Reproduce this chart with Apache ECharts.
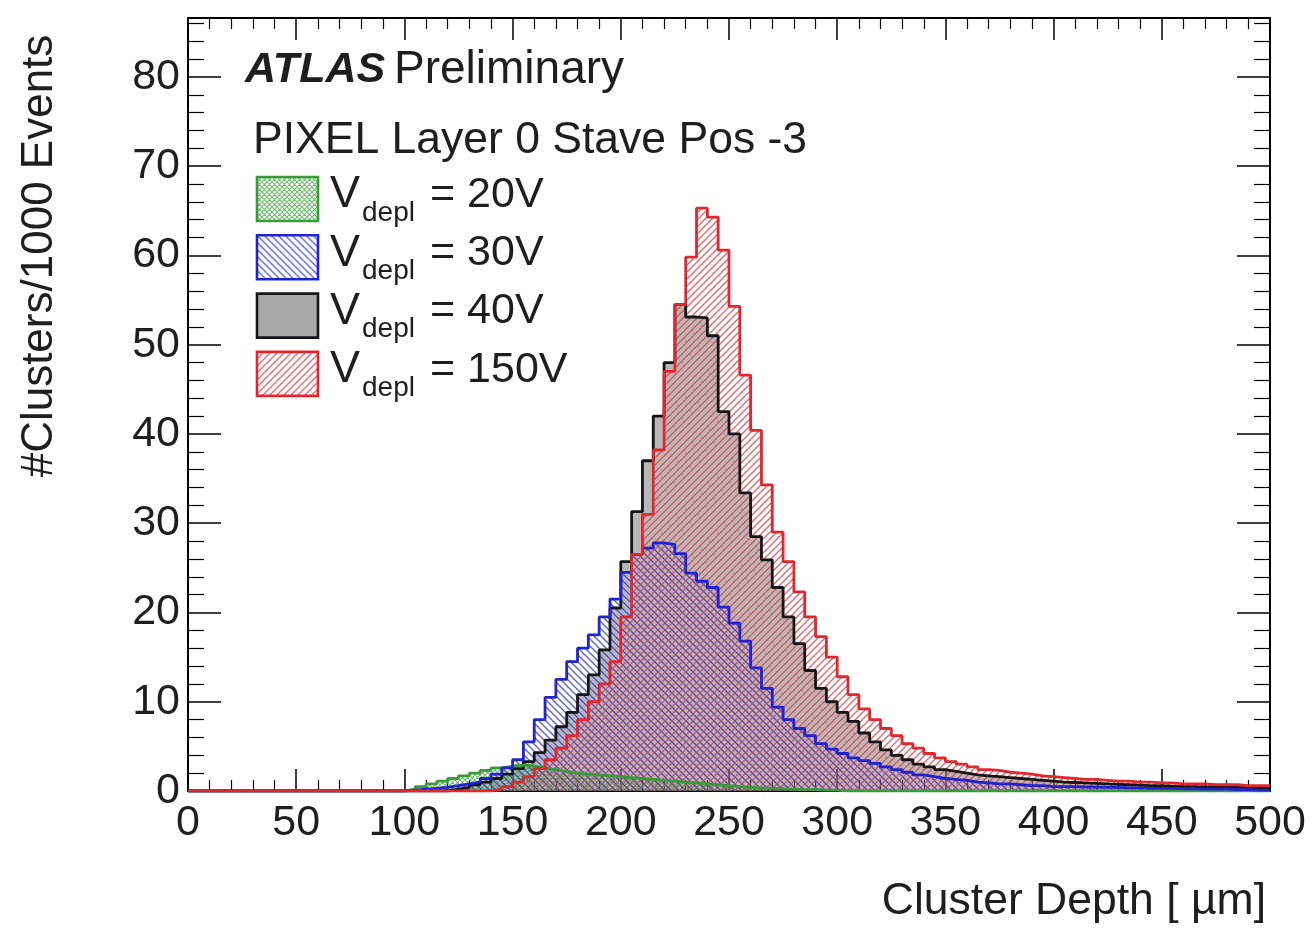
<!DOCTYPE html>
<html>
<head>
<meta charset="utf-8">
<script src="https://cdn.jsdelivr.net/npm/echarts@6/dist/echarts.min.js"></script>
<style>
html,body{margin:0;padding:0;background:#fff;}
#chart{width:1312px;height:933px;}
</style>
</head>
<body>
<div id="chart"></div>
<script>
// ---------- DATA ----------
// bin edges (µm), 5 µm bins
const binEdges = [0,5,10,15,20,25,30,35,40,45,50,55,60,65,70,75,80,85,90,95,
  100,105,110,115,120,125,130,135,140,145,150,155,160,165,170,175,180,185,190,195,
  200,205,210,215,220,225,230,235,240,245,250,255,260,265,270,275,280,285,290,295,
  300,305,310,315,320,325,330,335,340,345,350,355,360,365,370,375,380,385,390,395,
  400,405,410,415,420,425,430,435,440,445,450,455,460,465,470,475,480,485,490,495,500];

const xTickLabels = [0,50,100,150,200,250,300,350,400,450,500];
const yTickLabels = [0,10,20,30,40,50,60,70,80];

const seriesNames = ['20V','30V','40V','150V'];

const v20 = [
  0,0,0,0,0,0,0,0,0,0, 0,0,0,0,0,0,0,0,0,0,
  0.2,0.5,0.8,1.1,1.4,1.7,2.0,2.3,2.6,2.8,
  2.9,2.8,2.6,2.4,2.2,2.0,1.9,1.8,1.7,1.6,
  1.5,1.4,1.3,1.2,1.1,1.0,0.9,0.8,0.7,0.6,
  0.5,0.4,0.35,0.3,0.25,0.2,0.15,0.15,0.1,0.1,
  0,0,0,0,0,0,0,0,0,0, 0,0,0,0,0,0,0,0,0,0,
  0,0,0,0,0,0,0,0,0,0, 0,0,0,0,0,0,0,0,0,0
];
const v30 = [
  0,0,0,0,0,0,0,0,0,0, 0,0,0,0,0,0,0,0,0,0,
  0.1,0.2,0.3,0.4,0.6,0.8,1.0,1.4,1.9,2.6,
  3.5,5.5,8.0,10.5,12.5,14.5,16.0,17.5,19.5,21.5,
  24.5,26.5,27.2,27.8,27.6,26.6,24.4,23.5,22.8,20.6,
  18.8,16.8,13.8,11.5,9.4,8.0,7.0,6.2,5.3,4.7,
  4.2,3.7,3.4,3.1,2.7,2.4,2.1,1.8,1.6,1.4,
  1.3,1.2,1.0,0.9,0.8,0.8,0.7,0.6,0.6,0.5,
  0.5,0.5,0.45,0.45,0.4,0.4,0.35,0.35,0.3,0.3,
  0.3,0.25,0.25,0.2,0.2,0.2,0.15,0.15,0.1,0.1
];
const v40 = [
  0,0,0,0,0,0,0,0,0,0, 0,0,0,0,0,0,0,0,0,0,
  0,0,0,0,0.2,0.4,0.7,1.0,1.4,1.9,
  2.5,3.3,4.3,5.7,7.2,8.8,10.8,13.0,15.8,20.5,
  25.7,31.3,37.0,42.0,48.0,54.5,53.1,53.0,51.0,42.5,
  40.0,33.4,28.5,25.9,22.8,19.5,16.5,13.5,11.5,10.0,
  8.8,7.8,6.5,5.5,4.6,4.0,3.5,3.0,2.7,2.4,
  2.2,2.0,1.8,1.7,1.6,1.5,1.4,1.3,1.2,1.1,
  1.0,0.95,0.9,0.85,0.8,0.75,0.7,0.65,0.6,0.6,
  0.55,0.5,0.5,0.45,0.45,0.4,0.4,0.35,0.35,0.3
];
const v150 = [
  0,0,0,0,0,0,0,0,0,0, 0,0,0,0,0,0,0,0,0,0,
  0,0,0,0,0,0,0,0,0.2,0.5,
  1.0,1.6,2.5,3.5,4.8,6.2,8.0,10.0,12.0,14.5,
  19.5,26.5,31.0,38.2,47.0,54.5,59.8,65.3,64.3,60.6,
  54.3,46.6,40.4,34.3,29.0,25.7,22.3,19.5,17.3,15.0,
  12.8,10.8,9.2,8.0,7.0,6.2,5.3,4.8,4.2,3.7,
  3.3,3.0,2.7,2.4,2.3,2.1,2.0,1.9,1.7,1.6,
  1.5,1.4,1.3,1.3,1.2,1.1,1.1,1.0,1.0,0.9,
  0.9,0.8,0.8,0.8,0.7,0.7,0.7,0.6,0.6,0.6
];

// ---------- STYLE HELPERS ----------
const FONT = '"Liberation Sans", Arial, Helvetica, sans-serif';
const TXT = '#1e1e1e';

function hatch(color, dir, s, w) {
  const c = document.createElement('canvas');
  c.width = s; c.height = s;
  const ctx = c.getContext('2d');
  ctx.strokeStyle = color; ctx.lineWidth = w;
  ctx.beginPath();
  if (dir === '/' || dir === 'x') {
    ctx.moveTo(-1, s + 1); ctx.lineTo(s + 1, -1);
    ctx.moveTo(-2, 2); ctx.lineTo(2, -2);
    ctx.moveTo(s - 2, s + 2); ctx.lineTo(s + 2, s - 2);
  }
  if (dir === '\\' || dir === 'x') {
    ctx.moveTo(-1, -1); ctx.lineTo(s + 1, s + 1);
    ctx.moveTo(s - 2, -2); ctx.lineTo(s + 2, 2);
    ctx.moveTo(-2, s - 2); ctx.lineTo(2, s + 2);
  }
  ctx.stroke();
  return { image: c, repeat: 'repeat' };
}

const styles = {
  '20V':  { line: '#3a9a3a', fill: hatch('rgba(70,170,70,0.75)', 'x', 5, 1.1) },
  '30V':  { line: '#2222d0', fill: hatch('rgba(50,50,215,0.8)', '\\', 7, 1.3) },
  '40V':  { line: '#151515', fill: 'rgba(125,125,125,0.55)' },
  '150V': { line: '#e0262e', fill: hatch('rgba(225,60,65,0.8)', '/', 7, 1.3) }
};
const values = { '20V': v20, '30V': v30, '40V': v40, '150V': v150 };

function steps(vals) {
  const pts = vals.map((v, i) => [binEdges[i], v]);
  pts.push([binEdges[binEdges.length - 1], vals[vals.length - 1]]);
  return pts;
}

const drawOrder = ['40V', '20V', '30V', '150V'];
const series = [];
drawOrder.forEach(n => {
  series.push({
    name: n + ' fill', type: 'line', step: 'end', data: steps(values[n]),
    showSymbol: false, silent: true, z: 1,
    lineStyle: { width: 0, opacity: 0 },
    areaStyle: { color: styles[n].fill, opacity: 1 }
  });
});
drawOrder.forEach(n => {
  series.push({
    name: n, type: 'line', step: 'end', data: steps(values[n]),
    showSymbol: false, silent: true, z: 3,
    lineStyle: { width: 2.8, color: styles[n].line }
  });
});

const axisLineStyle = { show: true, onZero: false, lineStyle: { color: '#000', width: 2 } };

function xAx(pos, labels) {
  return {
    type: 'value', position: pos, min: xTickLabels[0], max: xTickLabels[xTickLabels.length - 1], interval: 50,
    axisLine: axisLineStyle,
    axisTick: { show: true, inside: true, length: 22, lineStyle: { color: '#000', width: 1.5 } },
    minorTick: { show: true, splitNumber: 5, length: 11, lineStyle: { color: '#000', width: 1.2 } },
    splitLine: { show: false }, minorSplitLine: { show: false },
    axisLabel: { show: labels, margin: 11, fontSize: 43, fontFamily: FONT, color: TXT }
  };
}
function yAx(pos, labels) {
  return {
    type: 'value', position: pos, min: yTickLabels[0], max: 86.6, interval: 10,
    axisLine: axisLineStyle,
    axisTick: { show: true, inside: true, length: 33, lineStyle: { color: '#000', width: 1.5 } },
    minorTick: { show: true, splitNumber: 5, length: 16, lineStyle: { color: '#000', width: 1.2 } },
    splitLine: { show: false }, minorSplitLine: { show: false },
    axisLabel: {
      show: labels, margin: 8, fontSize: 43, fontFamily: FONT, color: TXT,
      formatter: v => (yTickLabels.indexOf(v) >= 0 ? String(v) : '')
    }
  };
}

// legend (graphic)
const legendItems = ['20V', '30V', '40V', '150V'];
const graphic = [];
legendItems.forEach((n, i) => {
  const top = 177 + i * 58.3;
  graphic.push({
    type: 'rect', x: 257, y: top, z: 10,
    shape: { width: 61, height: 44 },
    style: { fill: n === '40V' ? '#a8a8a8' : styles[n].fill, stroke: styles[n].line, lineWidth: 2.6 }
  });
  graphic.push({ type: 'text', x: 330, y: top + 18, z: 10,
    style: { text: 'V', font: '45px ' + FONT, fill: TXT, align: 'left', verticalAlign: 'middle', textAlign: 'left', textVerticalAlign: 'middle' } });
  graphic.push({ type: 'text', x: 362, y: top + 36, z: 10,
    style: { text: 'depl', font: '28px ' + FONT, fill: TXT, align: 'left', verticalAlign: 'middle', textAlign: 'left', textVerticalAlign: 'middle' } });
  graphic.push({ type: 'text', x: 430, y: top + 18, z: 10,
    style: { text: '= ' + n, font: '43px ' + FONT, fill: TXT, align: 'left', verticalAlign: 'middle', textAlign: 'left', textVerticalAlign: 'middle' } });
});
graphic.push({ type: 'text', x: 245, y: 70, z: 10,
  style: { text: 'ATLAS', font: 'italic bold 43px ' + FONT, fill: TXT, align: 'left', verticalAlign: 'middle', textAlign: 'left', textVerticalAlign: 'middle' } });
graphic.push({ type: 'text', x: 394, y: 70, z: 10,
  style: { text: 'Preliminary', font: '46px ' + FONT, fill: TXT, align: 'left', verticalAlign: 'middle', textAlign: 'left', textVerticalAlign: 'middle' } });
graphic.push({ type: 'text', x: 253, y: 141, z: 10,
  style: { text: 'PIXEL Layer 0 Stave Pos -3', font: '44.5px ' + FONT, fill: TXT, align: 'left', verticalAlign: 'middle', textAlign: 'left', textVerticalAlign: 'middle' } });
graphic.push({ type: 'text', x: 1266, y: 902, z: 10,
  style: { text: 'Cluster Depth [ µm]', font: '44.5px ' + FONT, fill: TXT, align: 'right', verticalAlign: 'middle', textAlign: 'right', textVerticalAlign: 'middle' } });
graphic.push({ type: 'text', x: 40, y: 256, rotation: Math.PI / 2, z: 10,
  style: { text: '#Clusters/1000 Events', font: '44px ' + FONT, fill: TXT, align: 'center', verticalAlign: 'middle', textAlign: 'center', textVerticalAlign: 'middle' } });

const chart = echarts.init(document.getElementById('chart'), null, { renderer: 'canvas' });
chart.setOption({
  animation: false,
  backgroundColor: '#fff',
  grid: { left: 188, right: 42, top: 18, bottom: 142, containLabel: false },
  xAxis: [xAx('bottom', true), xAx('top', false)],
  yAxis: [yAx('left', true), yAx('right', false)],
  series: series,
  graphic: graphic
});
</script>
</body>
</html>
